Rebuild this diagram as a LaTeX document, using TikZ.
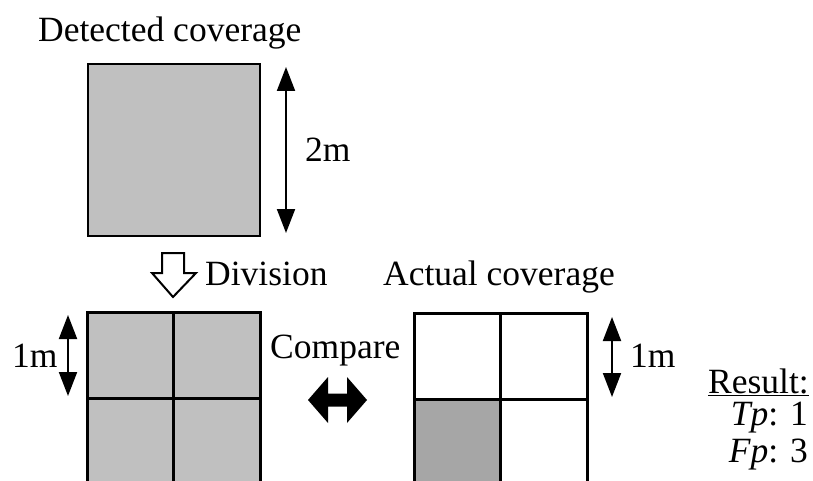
\documentclass[tikz,border=0pt]{standalone}
\usepackage{fontspec}
\setmainfont{Liberation Serif}
\usetikzlibrary{arrows.meta}
\definecolor{detgray}{HTML}{C0C0C0}
\definecolor{actgray}{HTML}{A6A6A6}
\begin{document}
\begin{tikzpicture}[x=1pt,y=-1pt,
  lbl/.style={inner sep=0pt,font=\fontsize{35.5}{40}\selectfont},
  cell/.style={draw,line width=2.6pt,minimum size=86.5pt,inner sep=0pt,outer sep=0pt},
  dim/.style={line width=2pt,{Triangle[width=18pt,length=24pt]}-{Triangle[width=18pt,length=24pt]}},
  ]
\clip (0,0) rectangle (813,481);
\fill[white] (0,0) rectangle (813,481);
% top square
\node[cell,minimum size=172pt,fill=detgray] (det) at (174,150) {};
\node[lbl,anchor=base west] (dett) at (38,42) {Detected coverage};
\coordinate (t1) at (286,67); \coordinate (t2) at (286,233);
\draw[dim] (t1) -- (t2);
\node[lbl,anchor=base west] (two) at (305,162) {2m};
% division arrow
\draw[line width=2pt,fill=white,line join=miter] (162,253) -- (184,253) -- (184,273) -- (196,273) -- (173,297) -- (152,273) -- (162,273) -- cycle;
\node[lbl,anchor=base west] (divt) at (205,285) {Division};
\node[lbl,anchor=base west] (actt) at (383,285) {Actual coverage};
% left grid
\node[cell,fill=detgray] (l11) at (130.5,355.5) {};
\node[cell,fill=detgray] (l12) at (217,355.5) {};
\node[cell,fill=detgray] (l21) at (130.5,442) {};
\node[cell,fill=detgray] (l22) at (217,442) {};
\coordinate (a1) at (68,315); \coordinate (a2) at (68,396);
\draw[dim] (a1) -- (a2);
\node[lbl,anchor=base west] (onel) at (12,367) {1m};
% compare
\node[lbl,anchor=base west] (cmp) at (270,358) {Compare};
\fill (308,400) -- (328,377) -- (328,393.5) -- (347,393.5) -- (347,377) -- (367,400) -- (347,423) -- (347,406.5) -- (328,406.5) -- (328,423) -- cycle;
% right grid
\node[cell,fill=white] (r11) at (457.5,356.5) {};
\node[cell,fill=white] (r12) at (544,356.5) {};
\node[cell,fill=actgray] (r21) at (457.5,443) {};
\node[cell,fill=white] (r22) at (544,443) {};
\coordinate (b1) at (612,317); \coordinate (b2) at (612,397);
\draw[dim] (b1) -- (b2);
\node[lbl,anchor=base west] (oner) at (630,367) {1m};
% result
\node[lbl,anchor=base west] (res) at (708,393) {\underline{Result:}};
\node[lbl,anchor=base east] (tp) at (808,425) {\textit{Tp}: 1};
\node[lbl,anchor=base east] (fp) at (808,462) {\textit{Fp}: 3};
\end{tikzpicture}
\end{document}
